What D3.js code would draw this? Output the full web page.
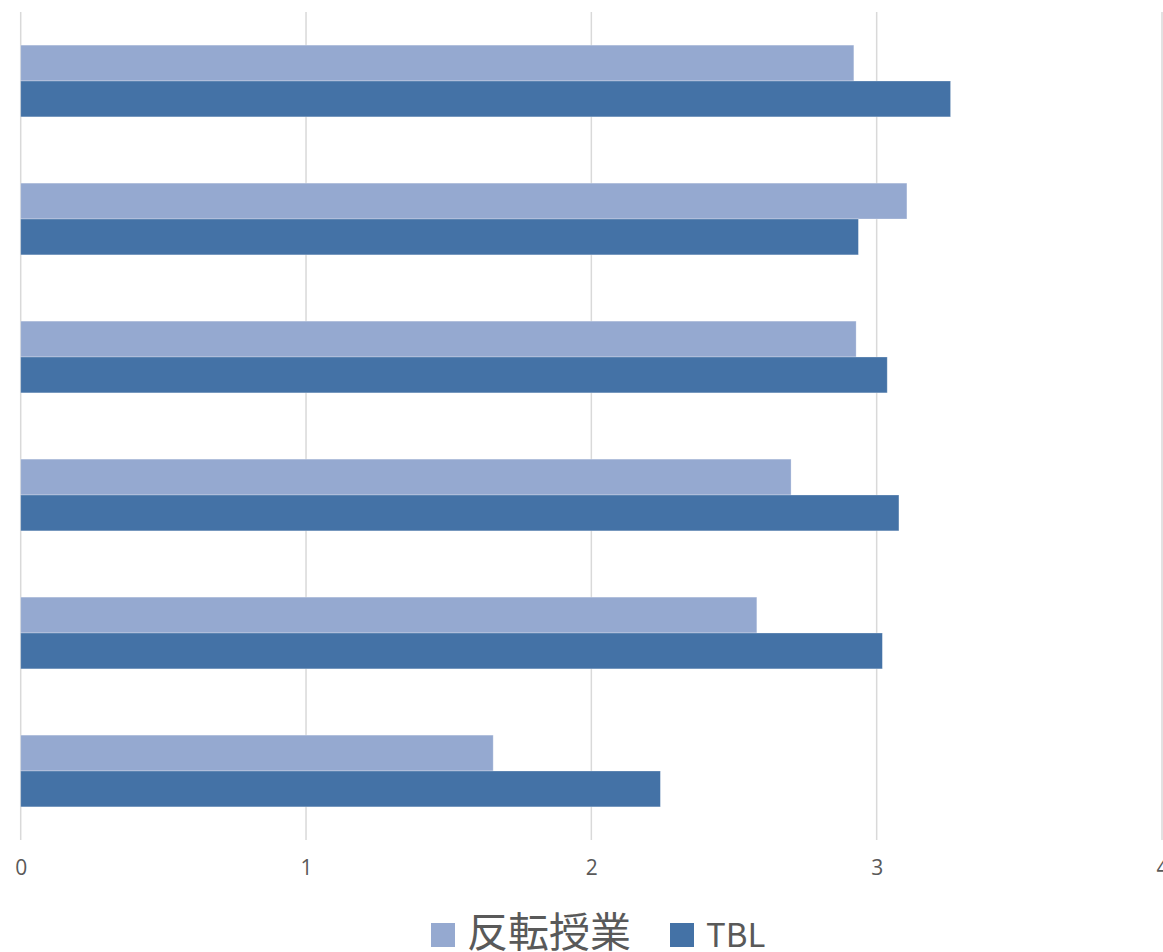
<!DOCTYPE html>
<html>
<head>
<meta charset="utf-8">
<script src="https://cdn.jsdelivr.net/npm/d3@7/dist/d3.min.js"></script>
<style>
  html, body { margin: 0; padding: 0; background: #fff; }
  svg { display: block; }
</style>
</head>
<body>
<svg id="chart" width="1163" height="952"></svg>
<script>
// Categories (drawn top to bottom), values per series
const categories = ["1", "2", "3", "4", "5", "6"];
const seriesNames = ["反転授業", "TBL"];
const flipped = [2.92, 3.106, 2.928, 2.70, 2.58, 1.656];
const tbl     = [3.259, 2.936, 3.037, 3.078, 3.02, 2.242];
const tickValues = [0, 1, 2, 3, 4];
const colors = ["#95a9d0", "#4472a6"];

const svg = d3.select("#chart");
const margin = { left: 20.7, right: 1162, top: 12, bottom: 840 };

const x = d3.scaleLinear().domain([0, 4]).range([margin.left, margin.right]);
const y = d3.scaleBand().domain(categories).range([margin.top, margin.bottom]).paddingInner(0.48).paddingOuter(0.24);
const ySub = d3.scaleBand().domain(seriesNames).range([0, y.bandwidth()]);

// vertical gridlines
svg.append("g")
  .selectAll("line")
  .data(tickValues)
  .join("line")
  .attr("x1", d => x(d)).attr("x2", d => x(d))
  .attr("y1", margin.top).attr("y2", margin.bottom)
  .attr("stroke", "#d9d9d9")
  .attr("stroke-width", 1.5);

// x axis tick labels
const axis = d3.axisBottom(x).tickValues(tickValues).tickSize(0).tickPadding(0).tickFormat(d3.format("d"));
const gAxis = svg.append("g").attr("transform", `translate(0, ${margin.bottom + 20})`).call(axis);
gAxis.select(".domain").remove();
gAxis.selectAll("text")
  .attr("fill", "#595959")
  .attr("font-family", "'Open Sans', 'Noto Sans', sans-serif")
  .attr("font-size", 21);

// bars
const rows = categories.map((c, i) => ({ c, vals: [flipped[i], tbl[i]] }));
const groups = svg.append("g").selectAll("g")
  .data(rows)
  .join("g")
  .attr("transform", d => `translate(0, ${y(d.c)})`);

groups.selectAll("rect")
  .data(d => d.vals.map((v, k) => ({ name: seriesNames[k], v, k })))
  .join("rect")
  .attr("x", x(0))
  .attr("y", d => ySub(d.name))
  .attr("width", d => x(d.v) - x(0))
  .attr("height", ySub.bandwidth())
  .attr("fill", d => colors[d.k])
  .attr("stroke", "#ffffff")
  .attr("stroke-opacity", 0.35)
  .attr("stroke-width", 0.8);

// legend
const legend = svg.append("g").attr("transform", "translate(0, 947)");
const items = [
  { name: seriesNames[0], color: colors[0], sx: 431, tx: 467, size: 41 },
  { name: seriesNames[1], color: colors[1], sx: 670, tx: 706, size: 33 }
];
items.forEach(it => {
  legend.append("rect")
    .attr("x", it.sx).attr("y", -24)
    .attr("width", 24).attr("height", 24)
    .attr("fill", it.color);
  legend.append("text")
    .attr("x", it.tx).attr("y", 0)
    .attr("fill", "#595959")
    .attr("font-family", "'Noto Sans CJK JP', 'Open Sans', sans-serif")
    .attr("font-size", it.size)
    .text(it.name);
});
</script>
</body>
</html>
